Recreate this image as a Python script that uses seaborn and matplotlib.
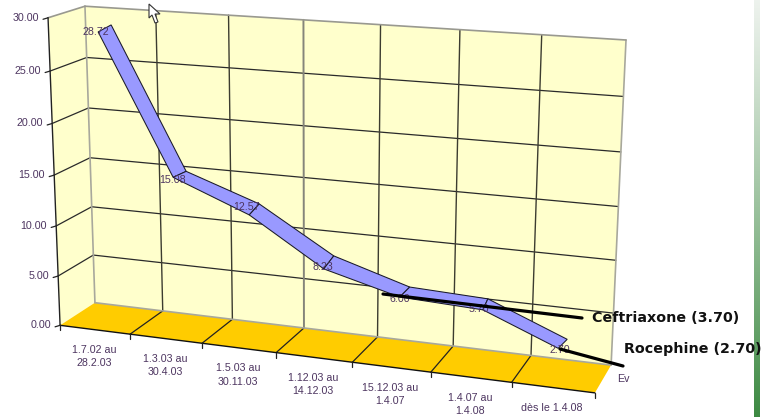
import numpy as np
import pandas as pd
import seaborn as sns
import matplotlib.pyplot as plt
from matplotlib.patches import Polygon, Rectangle

# data
periods = ['1.7.02 au\n28.2.03', '1.3.03 au\n30.4.03', '1.5.03 au\n30.11.03',
           '1.12.03 au\n14.12.03', '15.12.03 au\n1.4.07', '1.4.07 au\n1.4.08', 'dès le 1.4.08']
values = [28.72, 15.08, 12.57, 8.23, 6.00, 5.70, 2.70]
y_ticks = [0, 5, 10, 15, 20, 25, 30]
callouts = ['Ceftriaxone (3.70)', 'Rocephine (2.70)']

# ribbon look: the joints are mitred, so the front edge sits off the back edge by these pixels
joint_dx = [-13, -13, -10, -10, -10, -5, -9]
joint_dy = [7, 6, 11, 13, 10, 11, 9]
label_dy = [3, 2, -4, 3, 3, 1, 1]

sns.set_theme(style='white')
plt.rcParams['font.family'] = ['Liberation Sans', 'DejaVu Sans']

txt_col = '#4d3560'
n = len(periods)
ymax = y_ticks[-1]

# fit the perspective of the box: (category, value, depth) -> pixel
refs = [((0, 0, 0), (60, 325)), ((n, 0, 0), (595, 393)), ((0, 0, 1), (95, 303)),
        ((n, 0, 1), (611, 365)), ((0, ymax, 1), (85, 6)), ((n, ymax, 1), (626, 40)),
        ((0, ymax, 0), (48, 18))]
A = []
for (a, b, c), (u, v) in refs:
    A.append([a, b, c, 1, 0, 0, 0, 0, -u*a, -u*b, -u*c, -u])
    A.append([0, 0, 0, 0, a, b, c, 1, -v*a, -v*b, -v*c, -v])
P = np.linalg.svd(np.array(A, dtype=float))[2][-1].reshape(3, 4)


def proj(x, y, z):
    x, y, z = np.broadcast_arrays(x, y, z)
    q = np.stack([x, y, z, np.ones_like(x)], dtype=float)
    px = P @ q
    return px[0] / px[2], px[1] / px[2]


def seg(ax, p0, p1, color='#2a2a2a', lw=0.9, zorder=2):
    u, v = proj(*np.array([p0, p1], dtype=float).T)
    sns.lineplot(x=u, y=v, sort=False, estimator=None, color=color, lw=lw,
                 zorder=zorder, ax=ax, legend=False)


fig = plt.figure(figsize=(7.62, 4.17), dpi=100)
ax = fig.add_axes([0, 0, 1, 1])

# walls and floor
for corners, col in [([(0, 0, 0), (0, 0, 1), (0, ymax, 1), (0, ymax, 0)], '#FFFFCC'),
                     ([(0, 0, 1), (n, 0, 1), (n, ymax, 1), (0, ymax, 1)], '#FFFFCC'),
                     ([(0, 0, 0), (n, 0, 0), (n, 0, 1), (0, 0, 1)], '#FFCC00')]:
    u, v = proj(*np.array(corners, dtype=float).T)
    ax.add_patch(Polygon(np.c_[u, v], fc=col, ec='none', zorder=1))

# grid
for t in y_ticks[1:-1]:
    seg(ax, (0, t, 0), (0, t, 1))
    seg(ax, (0, t, 1), (n, t, 1))
for i in range(1, n):
    soft = i == 3
    seg(ax, (i, 0, 1), (i, ymax, 1), color='#85857a' if soft else '#3c3c30', lw=1.4 if soft else 1.0)
    seg(ax, (i, 0, 0), (i, 0, 1), color='#222222')

# box edges
grey = '#a8a89c'
seg(ax, (0, 0, 1), (0, ymax, 1), color=grey, lw=1.2)
seg(ax, (n, 0, 1), (n, ymax, 1), color=grey, lw=1.2)
seg(ax, (0, ymax, 1), (n, ymax, 1), color='#999990', lw=1.2)
seg(ax, (0, ymax, 0), (0, ymax, 1), color='#999990', lw=1.2)
seg(ax, (0, 0, 1), (n, 0, 1), color=grey, lw=1.2)
seg(ax, (0, 0, 0), (0, ymax, 0), color='#222222', lw=1.0)
seg(ax, (0, 0, 0), (n, 0, 0), color='#111111', lw=1.0)

# ticks and their labels
for t in y_ticks:
    u, v = proj(0, t, 0)
    ax.plot([u - 5, u], [v + 1.5, v], color='#222222', lw=0.9, zorder=2)
    ax.text(u - 9, v, f'{t:.2f}', ha='right', va='center', fontsize=7.7, color=txt_col, zorder=5)
for i in range(n + 1):
    u, v = proj(i, 0, 0)
    ax.plot([u, u], [v, v + 5], color='#222222', lw=0.9, zorder=2)
for i, lab in enumerate(periods):
    u, v = proj(i + 0.5, 0, 0)
    off = 27 if '\n' in lab else 20
    ax.text(u - 1, v + off, lab, ha='center', va='center', fontsize=7.7, color=txt_col,
            linespacing=1.4, zorder=5)
u, v = proj(n, 0, 0)
ev = ax.text(u + 22, v - 14, 'Ev', ha='left', va='center', fontsize=7.7, color=txt_col, zorder=5)
ev.set_clip_path(Rectangle((610, 370), 15, 16, transform=ax.transData))

# ribbon
xc = np.arange(n) + 0.5
bu, bv = proj(xc, np.array(values), 0.73)
fu, fv = bu + np.array(joint_dx), bv + np.array(joint_dy)
for i in range(n - 1):
    quad = np.c_[[fu[i], fu[i + 1], bu[i + 1], bu[i]], [fv[i], fv[i + 1], bv[i + 1], bv[i]]]
    ax.add_patch(Polygon(quad, fc='#9999FF', ec='#1a1a2a', lw=0.75, zorder=3))
lu, lv = proj(xc, np.array(values), 0.27)
for u, v, val, dy in zip(lu, lv, values, label_dy):
    ax.text(u + 1, v + dy - 2, f'{val:.2f}', ha='center', va='center', fontsize=7.7, color=txt_col, zorder=4)

# callouts pasted on top of the chart
line_df = pd.DataFrame({'x': [383, 582, 560, 623], 'y': [294, 318, 349, 366], 'name': [0, 0, 1, 1]})
sns.lineplot(data=line_df, x='x', y='y', units='name', estimator=None, sort=False,
             color='black', lw=2.3, zorder=6, ax=ax, legend=False)
ax.text(592, 318, callouts[0], fontfamily='DejaVu Sans', fontweight='bold', fontsize=10.25,
        color='#111111', ha='left', va='center', zorder=7)
ax.text(624, 349, callouts[1], fontfamily='DejaVu Sans', fontweight='bold', fontsize=10.25,
        color='#111111', ha='left', va='center', zorder=7)

# mouse cursor
cur = [(149, 4), (149, 18), (152, 15), (155, 23), (158, 22), (155, 14), (160, 14)]
ax.add_patch(Polygon(cur, fc='white', ec='#333333', lw=0.8, zorder=8))

# slide background strip at the right
grad = np.linspace(0, 1, 256)[:, None]
top, bot = np.array([0.93, 0.95, 0.93]), np.array([0.24, 0.54, 0.26])
strip = top + (bot - top) * grad ** 1.1
ax.imshow(strip[:, None, :], extent=(754, 760, 417, 0), aspect='auto', zorder=1)

ax.set_xlim(0, 762)
ax.set_ylim(417, 0)
ax.set_xlabel('')
ax.set_ylabel('')
ax.axis('off')
fig.savefig('out.png', dpi=100)
